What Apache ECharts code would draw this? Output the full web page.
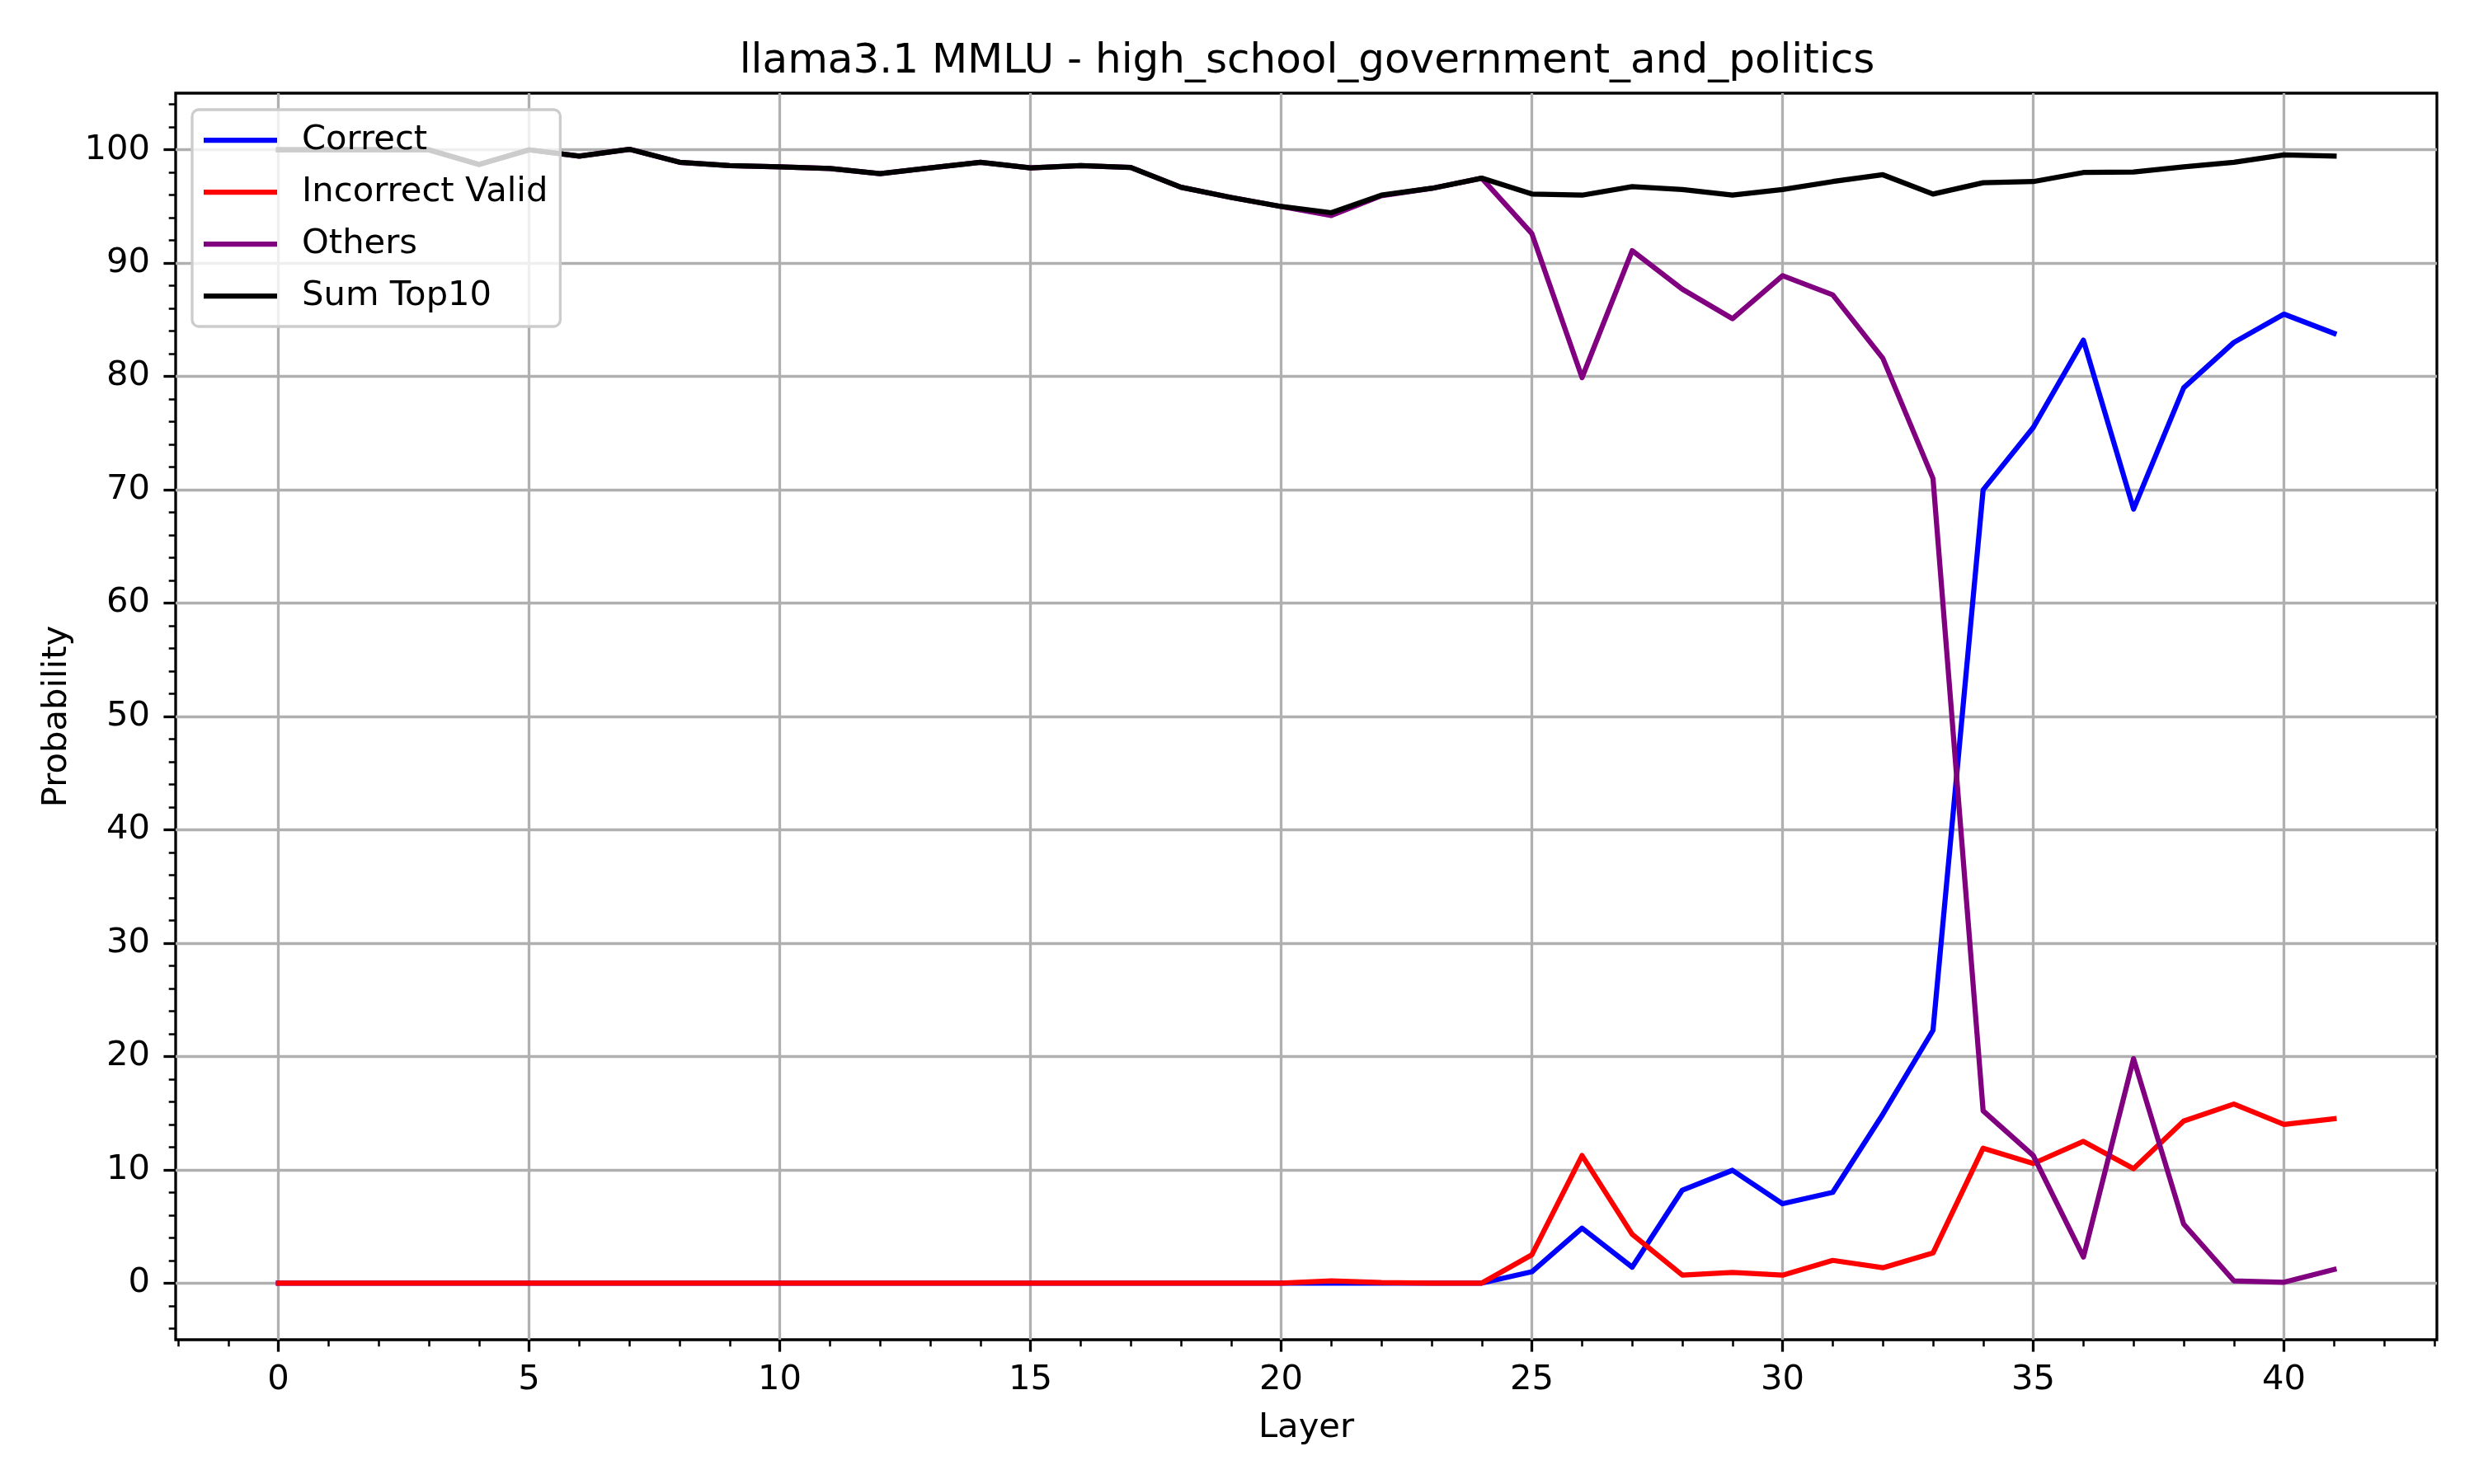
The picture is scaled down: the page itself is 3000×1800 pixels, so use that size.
<!DOCTYPE html>
<html>
<head>
<meta charset="utf-8">
<script src="https://cdn.jsdelivr.net/npm/echarts@6/dist/echarts.min.js"></script>
<style>
  html, body { margin: 0; padding: 0; background: #fff; }
  #chart { width: 3000px; height: 1800px; }
</style>
</head>
<body>
<div id="chart"></div>
<script>
const layers = [0, 1, 2, 3, 4, 5, 6, 7, 8, 9, 10, 11, 12, 13, 14, 15, 16, 17, 18, 19, 20,
  21, 22, 23, 24, 25, 26, 27, 28, 29, 30, 31, 32, 33, 34, 35, 36, 37, 38, 39, 40, 41];

const correct = [0, 0, 0, 0, 0, 0, 0, 0, 0, 0, 0, 0, 0, 0, 0, 0, 0, 0, 0, 0, 0,
  0, 0, 0, 0, 1.0, 4.85, 1.4, 8.2, 9.95, 7.0, 8.0, 14.9, 22.3, 70.0, 75.5, 83.2, 68.3, 79.0, 83.0, 85.5, 83.8];

const incorrectValid = [0, 0, 0, 0, 0, 0, 0, 0, 0, 0, 0, 0, 0, 0, 0, 0, 0, 0, 0, 0, 0,
  0.2, 0.05, 0, 0, 2.5, 11.25, 4.3, 0.7, 0.93, 0.7, 2.0, 1.35, 2.65, 11.9, 10.55, 12.5, 10.1, 14.3, 15.8, 14.0, 14.5];

const others = [100.0, 100.0, 100.0, 100.0, 98.7, 100.0, 99.45, 100.05, 98.9, 98.6, 98.5, 98.35, 97.9, 98.4, 98.9, 98.4, 98.6, 98.45, 96.7, 95.8, 95.0,
  94.2, 95.95, 96.6, 97.5, 92.6, 79.9, 91.1, 87.7, 85.1, 88.9, 87.2, 81.6, 71.0, 15.2, 11.25, 2.3, 19.8, 5.2, 0.2, 0.07, 1.2];

const sumTop10 = [100.0, 100.0, 100.0, 100.0, 98.7, 100.0, 99.45, 100.05, 98.9, 98.6, 98.5, 98.35, 97.9, 98.4, 98.9, 98.4, 98.6, 98.45, 96.7, 95.8, 95.0,
  94.45, 96.0, 96.6, 97.5, 96.1, 96.0, 96.75, 96.5, 96.0, 96.5, 97.2, 97.8, 96.1, 97.1, 97.2, 98.0, 98.05, 98.5, 98.9, 99.55, 99.45];

const xMajor = [0, 5, 10, 15, 20, 25, 30, 35, 40];
const xMinor = [-2, -1, 1, 2, 3, 4, 6, 7, 8, 9, 11, 12, 13, 14, 16, 17, 18, 19, 21, 22, 23, 24,
  26, 27, 28, 29, 31, 32, 33, 34, 36, 37, 38, 39, 41, 42, 43];
const yMajor = [0, 10, 20, 30, 40, 50, 60, 70, 80, 90, 100];
const yMinor = [-4, -2, 2, 4, 6, 8, 12, 14, 16, 18, 22, 24, 26, 28, 32, 34, 36, 38, 42, 44, 46, 48,
  52, 54, 56, 58, 62, 64, 66, 68, 72, 74, 76, 78, 82, 84, 86, 88, 92, 94, 96, 98, 102, 104];

const FONT = 'DejaVu Sans';
const FS = 41.7;
const xMin = -2.05, xMax = 43.05, yMin = -5, yMax = 105;

const pairs = (ys) => layers.map((x, i) => [x, ys[i]]);

const line = (name, ys, color) => ({
  name: name,
  type: 'line',
  data: pairs(ys),
  showSymbol: false,
  symbol: 'none',
  lineStyle: { color: color, width: 6.25, cap: 'square', join: 'round' },
  itemStyle: { color: color },
  emphasis: { disabled: true }
});

const chart = echarts.init(document.getElementById('chart'));

chart.setOption({
  animation: false,
  backgroundColor: '#fff',
  textStyle: { fontFamily: FONT },
  title: {
    text: 'llama3.1 MMLU - high_school_government_and_politics',
    left: 1580,
    top: 45,
    textAlign: 'center',
    textStyle: { fontFamily: FONT, fontSize: 50, fontWeight: 'normal', color: '#000' }
  },
  legend: {
    orient: 'vertical',
    left: 233,
    top: 133,
    icon: 'rect',
    itemWidth: 89,
    itemHeight: 6.25,
    itemGap: 13,
    padding: [12, 15, 12, 14],
    backgroundColor: 'rgba(255,255,255,0.8)',
    borderColor: '#cccccc',
    borderWidth: 3.3,
    borderRadius: 8,
    selectedMode: false,
    textStyle: { fontFamily: FONT, fontSize: FS, lineHeight: 50, color: '#000', padding: [0, 0, 0, 25] },
    data: ['Correct', 'Incorrect Valid', 'Others', 'Sum Top10']
  },
  grid: {
    left: 213,
    right: 45,
    top: 113,
    bottom: 175,
    show: true,
    borderColor: '#000',
    borderWidth: 3.3,
    containLabel: false
  },
  xAxis: [{
    type: 'value',
    position: 'bottom',
    min: xMin,
    max: xMax,
    name: 'Layer',
    nameLocation: 'middle',
    nameGap: 86,
    nameTextStyle: { fontFamily: FONT, fontSize: FS, color: '#000' },
    axisLine: { show: false, onZero: false },
    axisTick: { show: true, customValues: xMajor, length: 14.6, lineStyle: { color: '#000', width: 3.3 } },
    axisLabel: { customValues: xMajor, margin: 28, fontFamily: FONT, fontSize: FS, color: '#000' },
    splitLine: { show: true, lineStyle: { color: '#b0b0b0', width: 3.3 } }
  }, {
    type: 'value',
    position: 'bottom',
    min: xMin,
    max: xMax,
    axisLine: { show: false, onZero: false },
    axisTick: { show: true, customValues: xMinor, length: 8.3, lineStyle: { color: '#000', width: 2.5 } },
    axisLabel: { show: false },
    splitLine: { show: false }
  }],
  yAxis: [{
    type: 'value',
    position: 'left',
    min: yMin,
    max: yMax,
    name: 'Probability',
    nameLocation: 'middle',
    nameGap: 123,
    nameRotate: 90,
    nameTextStyle: { fontFamily: FONT, fontSize: FS, color: '#000' },
    axisLine: { show: false, onZero: false },
    axisTick: { show: true, customValues: yMajor, length: 14.6, lineStyle: { color: '#000', width: 3.3 } },
    axisLabel: { customValues: yMajor, margin: 31, fontFamily: FONT, fontSize: FS, color: '#000' },
    splitLine: { show: true, lineStyle: { color: '#b0b0b0', width: 3.3 } }
  }, {
    type: 'value',
    position: 'left',
    min: yMin,
    max: yMax,
    axisLine: { show: false, onZero: false },
    axisTick: { show: true, customValues: yMinor, length: 8.3, lineStyle: { color: '#000', width: 2.5 } },
    axisLabel: { show: false },
    splitLine: { show: false }
  }],
  series: [
    line('Correct', correct, '#0000ff'),
    line('Incorrect Valid', incorrectValid, '#ff0000'),
    line('Others', others, '#800080'),
    line('Sum Top10', sumTop10, '#000000')
  ]
});
</script>
</body>
</html>
